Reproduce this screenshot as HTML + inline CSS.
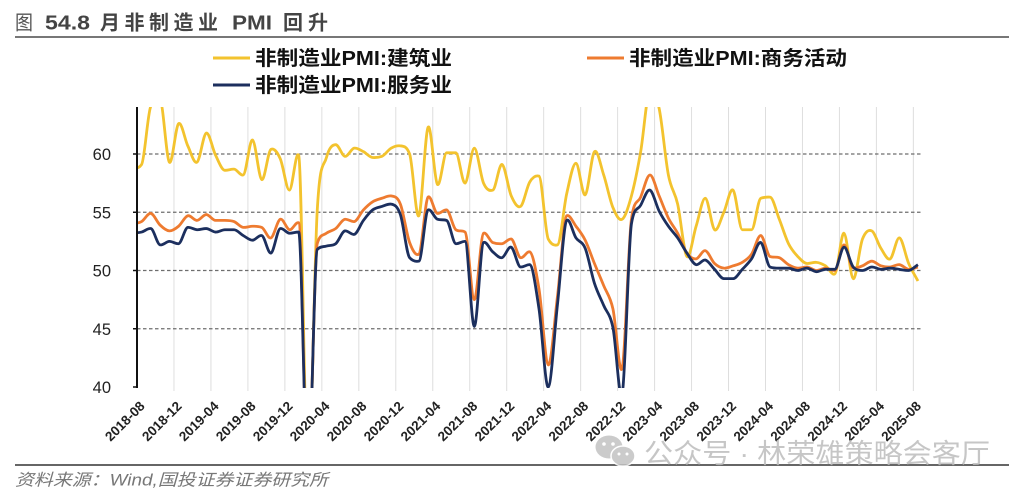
<!DOCTYPE html>
<html><head><meta charset="utf-8">
<style>
html,body{margin:0;padding:0;background:#fff;width:1024px;height:493px;overflow:hidden;}
svg{display:block;}
text{font-family:"Liberation Sans","Noto Sans CJK SC",sans-serif;}
</style></head>
<body>
<svg id="s" width="1024" height="493" viewBox="0 0 1024 493" xmlns="http://www.w3.org/2000/svg" style="position:absolute;left:0;top:0;">
<defs><clipPath id="c"><rect x="137" y="107" width="790" height="281"/></clipPath></defs>
<rect width="1024" height="493" fill="#fff"/>
<!-- title -->
<text x="15" y="29.5" font-size="20" fill="#555" textLength="18" lengthAdjust="spacingAndGlyphs">图</text>
<text x="45" y="29.5" font-size="20" font-weight="bold" fill="#444" textLength="45" lengthAdjust="spacingAndGlyphs">54.8</text>
<text x="100" y="29.5" font-size="20" font-weight="bold" fill="#444" textLength="118" lengthAdjust="spacing">月非制造业</text>
<text x="232" y="29.5" font-size="20" font-weight="bold" fill="#444" textLength="40" lengthAdjust="spacingAndGlyphs">PMI</text>
<text x="283" y="29.5" font-size="20" font-weight="bold" fill="#444" textLength="45" lengthAdjust="spacing">回升</text>
<line x1="15" y1="37" x2="1009" y2="37" stroke="#777" stroke-width="2"/>
<!-- legend -->
<line x1="213" y1="58" x2="250" y2="58" stroke="#F3C32E" stroke-width="3"/>
<text x="255" y="65" font-size="20" font-weight="bold" fill="#111" textLength="197" lengthAdjust="spacingAndGlyphs">非制造业PMI:建筑业</text>
<line x1="213" y1="85" x2="250" y2="85" stroke="#1C2F5E" stroke-width="3"/>
<text x="255" y="92" font-size="20" font-weight="bold" fill="#111" textLength="197" lengthAdjust="spacingAndGlyphs">非制造业PMI:服务业</text>
<line x1="587" y1="58" x2="624" y2="58" stroke="#EE7B30" stroke-width="3"/>
<text x="629" y="65" font-size="20" font-weight="bold" fill="#111" textLength="218" lengthAdjust="spacingAndGlyphs">非制造业PMI:商务活动</text>
<g id="grid"></g>
<g id="series" clip-path="url(#c)"></g>
<g id="axis"></g>
<!-- footer -->
<line x1="15" y1="465" x2="1009" y2="465" stroke="#666" stroke-width="2"/>
<text x="15" y="485.5" font-size="16.5" font-style="italic" fill="#777" textLength="313" lengthAdjust="spacingAndGlyphs">资料来源：Wind,国投证券证券研究所</text>
<!-- watermark -->
<g opacity="0.85">
<ellipse cx="609" cy="447" rx="13.5" ry="11.5" fill="#c3c3c3"/>
<ellipse cx="623" cy="456" rx="12" ry="10" fill="#c3c3c3" stroke="#fff" stroke-width="1.5"/>
<circle cx="604" cy="444" r="1.8" fill="#fff"/><circle cx="613" cy="444" r="1.8" fill="#fff"/>
<circle cx="619" cy="454" r="1.5" fill="#fff"/><circle cx="627" cy="454" r="1.5" fill="#fff"/>
<text x="644" y="463" font-size="27" fill="#bdbdbd" textLength="346" lengthAdjust="spacingAndGlyphs">公众号 · 林荣雄策略会客厅</text>
</g>
</svg>
<script>
(function(){
var NS="http://www.w3.org/2000/svg";
function el(n,a,p,t){var e=document.createElementNS(NS,n);for(var k in a)e.setAttribute(k,a[k]);if(t!==undefined)e.textContent=t;p.appendChild(e);return e;}
var Y=[58.7,59.1,64.1,64.6,59.3,62.6,60.7,59.3,61.8,59.9,58.6,58.7,58.2,61.2,57.8,60.4,59.6,56.9,59.9,
32.0,55.1,59.7,60.8,59.8,60.5,60.2,59.7,59.8,60.5,60.7,
60.0,54.7,62.3,57.4,60.1,60.1,57.5,60.5,57.5,56.9,59.1,56.4,
55.5,57.6,58.1,52.7,52.2,56.6,59.2,56.5,60.2,58.2,55.4,54.4,
56.4,60.2,65.6,63.9,58.2,55.7,51.2,53.8,56.2,53.5,55.0,56.9,
53.5,53.5,56.2,56.3,54.4,52.3,51.2,50.6,50.7,50.4,49.7,53.2,
49.3,52.7,53.4,51.9,51.0,52.8,50.6,49.1];
var O=[54.0,54.2,54.9,53.9,53.4,53.8,54.7,54.3,54.8,54.3,54.3,54.2,53.7,53.8,53.7,52.8,54.4,53.5,54.1,
32.0,52.3,53.2,53.6,54.4,54.2,55.2,55.9,56.2,56.4,55.7,
52.4,51.4,56.3,54.9,55.2,53.5,53.3,47.5,53.2,52.4,52.3,52.7,
51.1,51.6,48.4,41.9,47.8,54.7,53.8,52.6,50.6,48.7,46.7,41.6,
54.4,56.3,58.2,56.4,54.5,53.2,51.5,51.0,51.7,50.6,50.2,50.4,
50.7,51.4,53.0,51.2,51.1,50.5,50.2,50.3,50.0,50.2,50.0,52.2,
50.2,50.4,50.8,50.4,50.3,50.5,50.1,50.3];
var B=[53.2,53.3,53.6,52.2,52.5,52.3,53.7,53.5,53.6,53.3,53.5,53.5,53.0,52.6,53.0,51.5,53.6,53.2,53.3,
32.0,51.8,52.1,52.3,53.4,53.1,54.3,55.2,55.5,55.7,54.8,
51.1,50.8,55.2,54.4,54.3,52.3,52.5,45.2,52.4,51.6,51.1,52.0,
50.3,50.5,46.7,40.0,47.1,54.3,52.8,51.9,48.9,47.0,45.1,39.4,
54.0,55.6,56.9,55.1,53.8,52.8,51.5,50.5,50.9,50.1,49.3,49.3,
50.1,51.0,52.4,50.3,50.2,50.2,50.0,50.2,49.9,50.1,50.1,52.0,
50.3,50.0,50.3,50.1,50.2,50.1,50.0,50.5];
function px(i){return 141.6+9.242*(i-1);}
function py(v){return 154-(v-60)*11.65;}
function path(arr){
  var n=arr.length,h=9.242;
  var xs=arr.map(function(v,i){return px(i);}),ys=arr.map(py);
  var d=[],t=[];
  for(var i=0;i<n-1;i++)d.push((ys[i+1]-ys[i])/h);
  for(var i=0;i<n;i++){
    if(i==0)t.push(d[0]);
    else if(i==n-1)t.push(d[n-2]);
    else{
      var a=d[i-1],b=d[i],m=(a+b)/2,lim;
      if(a*b<=0)lim=0.5*Math.min(Math.abs(a),Math.abs(b));
      else lim=3*Math.min(Math.abs(a),Math.abs(b));
      if(Math.abs(m)>lim)m=(m>0?1:-1)*lim;
      t.push(m);
    }
  }
  var s="M"+Math.max(xs[0],137).toFixed(2)+","+ys[0].toFixed(2);
  s="M"+xs[0].toFixed(2)+","+ys[0].toFixed(2);
  for(var i=0;i<n-1;i++){
    var c1x=xs[i]+h/3,c1y=ys[i]+t[i]*h/3,c2x=xs[i+1]-h/3,c2y=ys[i+1]-t[i+1]*h/3;
    s+=" C"+c1x.toFixed(2)+","+c1y.toFixed(2)+" "+c2x.toFixed(2)+","+c2y.toFixed(2)+" "+xs[i+1].toFixed(2)+","+ys[i+1].toFixed(2);
  }
  return s;
}
var g=document.getElementById("grid");
for(var k=1;k<=21;k++){var x=137+36.97*k;el("line",{x1:x,y1:107,x2:x,y2:391,stroke:"#dedede","stroke-width":1},g);}
[60,55,50,45].forEach(function(v){var y=py(v);el("line",{x1:137,y1:y,x2:923,y2:y,stroke:"#6e6e6e","stroke-width":1.2,"stroke-dasharray":"3.5,2.5"},g);});
var s=document.getElementById("series");
el("path",{d:path(Y),fill:"none",stroke:"#F3C32E","stroke-width":2.8,"stroke-linejoin":"round"},s);
el("path",{d:path(O),fill:"none",stroke:"#EE7B30","stroke-width":2.8,"stroke-linejoin":"round"},s);
el("path",{d:path(B),fill:"none",stroke:"#1C2F5E","stroke-width":2.8,"stroke-linejoin":"round"},s);
var a=document.getElementById("axis");
el("line",{x1:137,y1:107,x2:137,y2:388,stroke:"#111","stroke-width":2},a);
[60,55,50,45,40].forEach(function(v){var y=py(v);
  el("line",{x1:133,y1:y,x2:137,y2:y,stroke:"#111","stroke-width":1.5},a);
  el("text",{x:111,y:y+6,"font-size":16.5,fill:"#222","text-anchor":"end"},a,String(v));
});
for(var k=0;k<=21;k++){
  var m=4*k,t=7+m,yr=2018+Math.floor(t/12),mo=(t%12)+1;
  var lab=yr+"-"+(mo<10?"0"+mo:mo);
  var x=141.6+9.242*m+4,y=407;
  el("text",{x:0,y:0,"font-size":13.5,"font-weight":"bold",fill:"#222","text-anchor":"end",transform:"translate("+x.toFixed(1)+","+y+") rotate(-45)"},a,lab);
}
})();
</script>
</body></html>
